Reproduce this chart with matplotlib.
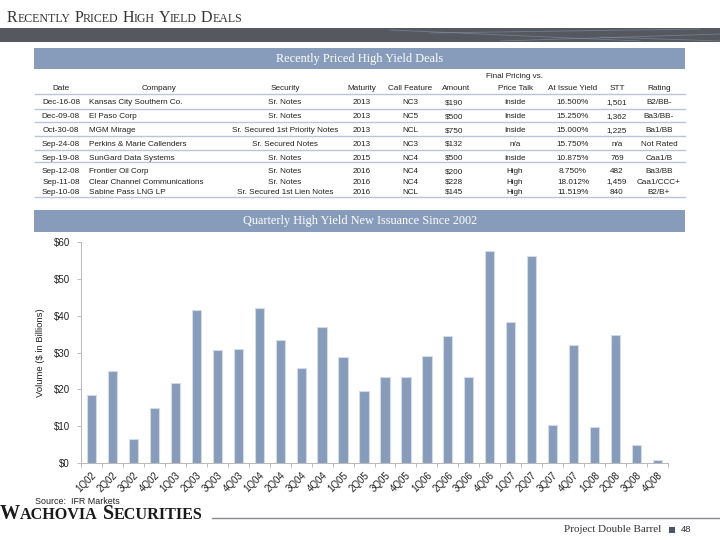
import matplotlib
matplotlib.use("Agg")
import matplotlib.pyplot as plt
from matplotlib.lines import Line2D
from matplotlib.patches import Rectangle
import numpy as np

# ---- data ----
quarters = ["1Q02", "2Q02", "3Q02", "4Q02", "1Q03", "2Q03", "3Q03", "4Q03",
            "1Q04", "2Q04", "3Q04", "4Q04", "1Q05", "2Q05", "3Q05", "4Q05",
            "1Q06", "2Q06", "3Q06", "4Q06", "1Q07", "2Q07", "3Q07", "4Q07",
            "1Q08", "2Q08", "3Q08", "4Q08"]
volume = [18.5, 25.0, 6.5, 14.9, 21.7, 41.5, 30.7, 31.0,
          42.1, 33.4, 25.8, 36.9, 28.8, 19.5, 23.4, 23.4,
          29.0, 34.5, 23.4, 57.5, 38.2, 56.2, 10.3, 32.1,
          9.8, 34.7, 4.9, 0.8]
yticks = [0, 10, 20, 30, 40, 50, 60]

dates = ["Dec-16-08", "Dec-09-08", "Oct-30-08", "Sep-24-08", "Sep-19-08",
         "Sep-12-08", "Sep-11-08", "Sep-10-08"]
companies = ["Kansas City Southern Co.", "El Paso Corp", "MGM Mirage",
             "Perkins & Marie Callenders", "SunGard Data Systems",
             "Frontier Oil Corp", "Clear Channel Communications", "Sabine Pass LNG LP"]
securities = ["Sr. Notes", "Sr. Notes", "Sr. Secured 1st Priority Notes", "Sr. Secured Notes",
              "Sr. Notes", "Sr. Notes", "Sr. Notes", "Sr. Secured 1st Lien Notes"]
maturity = ["2013", "2013", "2013", "2013", "2015", "2016", "2016", "2016"]
call_feature = ["NC3", "NC5", "NCL", "NC3", "NC4", "NC4", "NC4", "NCL"]
amount = ["$190", "$500", "$750", "$132", "$500", "$200", "$228", "$145"]
price_talk = ["Inside", "Inside", "Inside", "n/a", "Inside", "High", "High", "High"]
issue_yield = ["16.500%", "15.250%", "15.000%", "15.750%", "10.875%", "8.750%", "18.012%", "11.519%"]
stt = ["1,501", "1,362", "1,225", "n/a", "769", "482", "1,459", "840"]
rating = ["B2/BB-", "Ba3/BB-", "Ba1/BB", "Not Rated", "Caa1/B", "Ba3/BB", "Caa1/CCC+", "B2/B+"]

W, H = 720, 540
BLUE = "#879cbb"
SANS = "Liberation Sans"
SERIF = "Liberation Serif"
TXT = "#222222"

fig = plt.figure(figsize=(7.2, 5.4), dpi=100)
fig.patch.set_facecolor("white")


def P(x, y):
    # pixel position (from top-left) -> figure fraction
    return x / W, 1 - y / H


def ftext(x, y, s, **kw):
    return fig.text(*P(x, y), s, **kw)


def small_caps(x, y, text, big, small, gap, **kw):
    r = fig.canvas.get_renderer()
    for word in text.split():
        t = ftext(x, y, word[0], fontsize=big, va="baseline", ha="left", **kw)
        x += t.get_window_extent(r).width
        t = ftext(x, y, word[1:].upper(), fontsize=small, va="baseline", ha="left", **kw)
        x += t.get_window_extent(r).width + gap


def hline(x0, x1, y, color, lw):
    fig.add_artist(Line2D([x0 / W, x1 / W], [1 - y / H, 1 - y / H], color=color, lw=lw))


def band(x0, y0, x1, y1, color):
    fig.add_artist(Rectangle(P(x0, y1), (x1 - x0) / W, (y1 - y0) / H, color=color, lw=0))


# ---- page header ----
small_caps(7, 21.5, "Recently Priced High Yield Deals", 11.5, 8.6, 3.7, family=SERIF, color="#333333")
band(0, 28, 720, 42, "#55585f")
for (xa, ya, xb, yb) in [(390, 30, 640, 41), (500, 41, 720, 34), (430, 33, 700, 29), (600, 37, 720, 41)]:
    fig.add_artist(Line2D([xa / W, xb / W], [1 - ya / H, 1 - yb / H], color="#8595aa", lw=0.6, alpha=0.6))

# ---- table ----
band(34, 48, 685, 69, BLUE)
ftext(360, 58.5, "Recently Priced High Yield Deals", family=SERIF, fontsize=8.8,
      color="white", ha="center", va="center")

tfs = 5.9
ftext(515, 78.2, "Final Pricing vs.", family=SANS, fontsize=tfs, color=TXT, ha="center", va="baseline")
cols = [
    ("Date", dates, 61, "center", 61),
    ("Company", companies, 89, "left", 159),
    ("Security", securities, 285, "center", 285),
    ("Maturity", maturity, 362, "center", 362),
    ("Call Feature", call_feature, 410, "center", 410),
    ("Amount", amount, 445, "left", 456),
    ("Price Talk", price_talk, 515, "center", 515),
    ("At Issue Yield", issue_yield, 573, "center", 573),
    ("STT", stt, 617, "center", 617),
    ("Rating", rating, 659, "center", 659),
]
row_y = [102.3, 116, 130, 143.7, 157.3, 171, 181.3, 191.7]
for head, vals, x, ha, hx in cols:
    ftext(hx, 87.7 + 2.2, head, family=SANS, fontsize=tfs, color=TXT, ha="center", va="baseline")
    for v, y in zip(vals, row_y):
        ftext(x, y + 2.2, v, family=SANS, fontsize=tfs, color=TXT, ha=ha, va="baseline")
for y in [94.3, 109.3, 122.3, 135.7, 150.3, 162.3, 197]:
    hline(35, 685, y, "#b9c4d6", 1.0)

# ---- chart ----
band(34, 210, 685, 232, BLUE)
ftext(360, 221, "Quarterly High Yield New Issuance Since 2002", family=SERIF, fontsize=8.8,
      color="white", ha="center", va="center")

ax = fig.add_axes([81 / W, 1 - 463 / H, (668 - 81) / W, (463 - 242) / H])
x = np.arange(len(quarters))
ax.bar(x, volume, width=0.44, color=BLUE, edgecolor="#d3dbe8", linewidth=0.8)
ax.set_xlim(-0.5, len(quarters) - 0.5)
ax.set_ylim(0, 60)
ax.set_yticks(yticks)
ax.set_yticklabels(["$%d" % v for v in yticks], family=SANS, fontsize=7, color=TXT)
ax.set_xticks(x)
ax.set_xticklabels(quarters, rotation=45, ha="right", rotation_mode="anchor",
                   family=SANS, fontsize=7, color=TXT)
ax.set_xticks(np.arange(-0.5, len(quarters), 1), minor=True)
ax.tick_params(axis="x", which="major", length=0, pad=5)
ax.tick_params(axis="x", which="minor", length=3, color="#b0b0b0", width=0.6)
ax.tick_params(axis="y", length=3, color="#b0b0b0", width=0.6, pad=5)
for s in ["top", "right"]:
    ax.spines[s].set_visible(False)
for s in ["left", "bottom"]:
    ax.spines[s].set_color("#b8b8b8")
    ax.spines[s].set_linewidth(0.7)
ax.set_ylabel("Volume ($ in Billions)", family=SANS, fontsize=6.8, color=TXT, labelpad=6)

# ---- footer ----
ftext(35, 501, "Source:  IFR Markets", family=SANS, fontsize=6.4, color=TXT, ha="left", va="center")
small_caps(0, 519, "Wachovia Securities", 14.5, 11.6, 5, family=SERIF, weight="bold", color="#1a1a1a")
hline(212, 720, 518, "#8a8a92", 1.0)
ftext(661, 530, "Project Double Barrel", family=SERIF, fontsize=8, color="#333333", ha="right", va="center")
band(669, 527, 675, 533, "#4f5561")
ftext(681, 530, "48", family=SANS, fontsize=6.8, color="#333333", ha="left", va="center")

fig.savefig("out.png", dpi=100)
